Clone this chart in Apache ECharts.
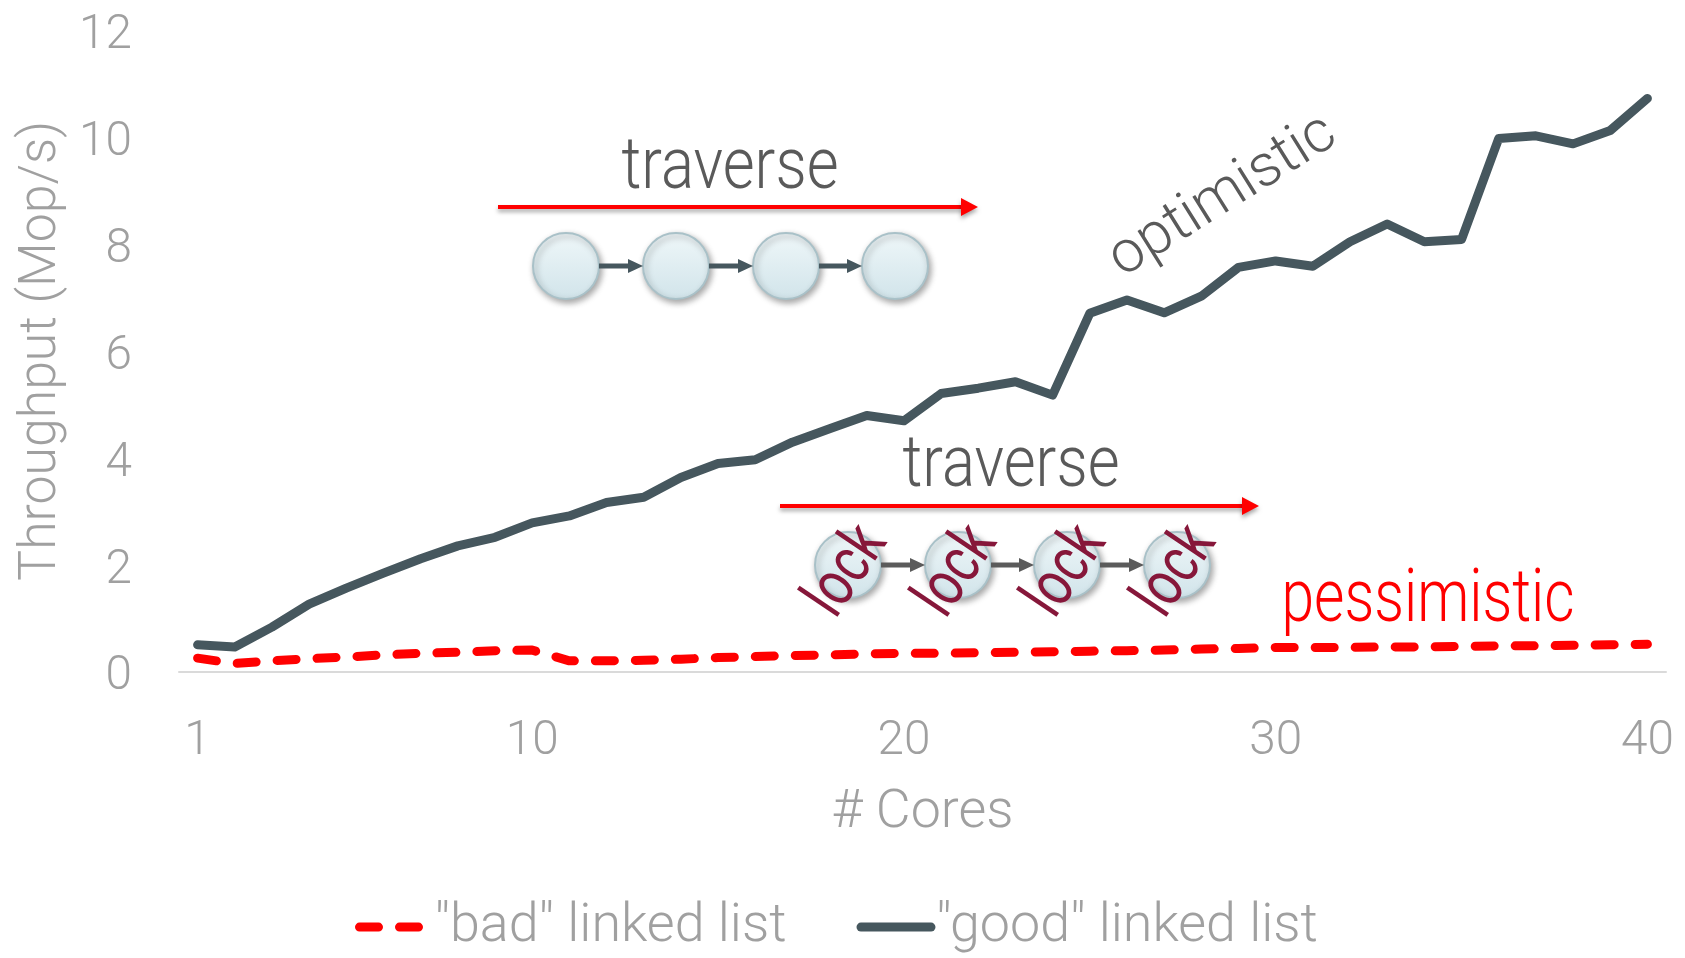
<!DOCTYPE html>
<html>
<head>
<meta charset="utf-8">
<style>
  html, body { margin: 0; padding: 0; background: #ffffff; }
  #chart { width: 1685px; height: 958px; }
</style>
<script src="https://cdn.jsdelivr.net/npm/echarts@6/dist/echarts.min.js"></script>
</head>
<body>
<div id="chart"></div>
<script>
// Number of cores on the x axis
const cores = ['1','2','3','4','5','6','7','8','9','10',
               '11','12','13','14','15','16','17','18','19','20',
               '21','22','23','24','25','26','27','28','29','30',
               '31','32','33','34','35','36','37','38','39','40'];
// Core counts that get a tick label
const xTickLabels = ['1', '10', '20', '30', '40'];
// Throughput axis range (Mop/s)
const yMin = 0, yMax = 12, yStep = 2;

const seriesNames = ['"bad" linked list', '"good" linked list'];

// Lock-based (pessimistic) list throughput, Mop/s
const badList = [0.25, 0.15, 0.20, 0.24, 0.27, 0.31, 0.34, 0.36, 0.39, 0.40,
                 0.20, 0.20, 0.21, 0.23, 0.26, 0.28, 0.30, 0.31, 0.33, 0.34,
                 0.34, 0.35, 0.36, 0.37, 0.38, 0.39, 0.40, 0.42, 0.43, 0.45,
                 0.45, 0.45, 0.46, 0.46, 0.47, 0.48, 0.48, 0.49, 0.50, 0.51];
// Optimistic list throughput, Mop/s
const goodList = [0.50, 0.46, 0.83, 1.26, 1.56, 1.84, 2.11, 2.35, 2.51, 2.78,
                  2.91, 3.16, 3.26, 3.63, 3.89, 3.96, 4.29, 4.54, 4.79, 4.69,
                  5.20, 5.30, 5.42, 5.17, 6.70, 6.95, 6.71, 7.02, 7.56, 7.68,
                  7.58, 8.04, 8.37, 8.04, 8.08, 9.97, 10.02, 9.87, 10.12, 10.72];

const FAMILY = 'Roboto, "Open Sans", "DejaVu Sans", sans-serif';
const RED = '#ff0000';
const SLATE = '#46575e';
const GREY_TEXT = '#a0a0a0';

// ---- Text sizing: pick a font size (or horizontal squeeze) that gives a target width ----
const measureCtx = document.createElement('canvas').getContext('2d');
function textWidth(text, weight, size) {
  measureCtx.font = weight + ' ' + size + 'px ' + FAMILY;
  return measureCtx.measureText(text).width;
}
function sizeForWidth(text, weight, targetWidth) {
  return 100 * targetWidth / textWidth(text, weight, 100);
}
function squeezeFor(text, weight, size, targetWidth) {
  return Math.min(1, targetWidth / textWidth(text, weight, size));
}

const yNameSize = sizeForWidth('Throughput (Mop/s)', 300, 460);
const xNameSize = sizeForWidth('# Cores', 300, 182);
const legendSize = sizeForWidth(seriesNames[0], 300, 352);
const tickSize = sizeForWidth('40', 300, 46) * 1.15;

// ---- Annotation drawing helpers (list diagrams) ----
function nodeCircle(cx, cy) {
  return {
    type: 'circle',
    shape: { cx: cx, cy: cy, r: 33 },
    style: {
      fill: new echarts.graphic.LinearGradient(0, 0, 0, 1, [
        { offset: 0, color: '#eff7f9' },
        { offset: 1, color: '#d1e4ea' }
      ]),
      stroke: '#a9c1c8',
      lineWidth: 2,
      shadowBlur: 6,
      shadowColor: 'rgba(0,0,0,0.35)',
      shadowOffsetX: 2,
      shadowOffsetY: 3
    },
    z: 10
  };
}

function arrow(x1, y, x2, color, width, headLen, headHalf, shadow) {
  const s = shadow ? { shadowBlur: 4, shadowColor: 'rgba(0,0,0,0.35)', shadowOffsetY: 3 } : {};
  return [
    {
      type: 'line',
      shape: { x1: x1, y1: y, x2: x2 - headLen + 2, y2: y },
      style: Object.assign({ stroke: color, lineWidth: width }, s),
      z: 11
    },
    {
      type: 'polygon',
      shape: { points: [[x2, y], [x2 - headLen, y - headHalf], [x2 - headLen, y + headHalf]] },
      style: Object.assign({ fill: color }, s),
      z: 11
    }
  ];
}

function label(text, x, y, weight, size, targetWidth, color, rotationDeg) {
  return {
    type: 'text',
    x: x,
    y: y,
    rotation: (rotationDeg || 0) * Math.PI / 180,
    scaleX: targetWidth ? squeezeFor(text, weight, size, targetWidth) : 1,
    style: {
      text: text,
      font: weight + ' ' + size + 'px ' + FAMILY,
      fill: color,
      align: 'center',
      verticalAlign: 'middle',
      textAlign: 'center',
      textVerticalAlign: 'middle'
    },
    z: 12
  };
}

const graphics = [];

// Upper diagram: plain traversal
const upperNodesX = [566, 676, 786, 895];
const upperNodeY = 266;
graphics.push(label('traverse', 730, 170, 300, 73, 217, '#5a5a5a'));
graphics.push(...arrow(498, 207, 978, RED, 4, 17, 9, true));
upperNodesX.forEach(function (cx, i) {
  if (i < upperNodesX.length - 1) {
    graphics.push(...arrow(cx + 33, upperNodeY, upperNodesX[i + 1] - 33, SLATE, 5, 15, 7, false));
  }
  graphics.push(nodeCircle(cx, upperNodeY));
});

// Lower diagram: hand-over-hand locking traversal
const lowerNodesX = [848, 958, 1067, 1177];
const lowerNodeY = 565;
graphics.push(label('traverse', 1011, 468, 300, 73, 217, '#5a5a5a'));
graphics.push(...arrow(780, 506, 1259, RED, 4, 17, 9, true));
lowerNodesX.forEach(function (cx, i) {
  if (i < lowerNodesX.length - 1) {
    graphics.push(...arrow(cx + 33, lowerNodeY, lowerNodesX[i + 1] - 33, '#5b5b5b', 5, 15, 7, false));
  }
  graphics.push(nodeCircle(cx, lowerNodeY));
});
lowerNodesX.forEach(function (cx) {
  graphics.push(label('lock', cx, lowerNodeY + 7, 400, 65, 94, '#86173a', 56));
});

// Curve labels
graphics.push(label('optimistic', 1223, 197, 300, 59, null, '#5a5a5a', 32));
graphics.push(label('pessimistic', 1428, 602, 300, 75, 293, RED));

const chart = echarts.init(document.getElementById('chart'), null, { renderer: 'canvas' });

chart.setOption({
  animation: false,
  backgroundColor: '#ffffff',
  grid: { left: 179, right: 19, top: 30, bottom: 286.5, containLabel: false, outerBoundsMode: 'none' },
  legend: {
    data: seriesNames,
    left: 350,
    top: 922 - legendSize / 2,
    itemWidth: 70,
    itemHeight: 14,
    itemGap: 70,
    lineStyle: { width: 'inherit' },
    itemStyle: { opacity: 0 },
    textStyle: { fontFamily: FAMILY, fontWeight: 300, fontSize: legendSize, lineHeight: legendSize, color: GREY_TEXT }
  },
  xAxis: {
    type: 'category',
    data: cores,
    boundaryGap: true,
    name: '# Cores',
    nameLocation: 'middle',
    nameGap: 813 - 671.5 - xNameSize / 2,
    nameTextStyle: { fontFamily: FAMILY, fontWeight: 300, fontSize: xNameSize, color: GREY_TEXT },
    axisLine: { show: true, lineStyle: { color: '#dadada', width: 2 } },
    axisTick: { show: false },
    axisLabel: {
      interval: function (index, value) { return xTickLabels.indexOf(value) !== -1; },
      margin: 70 - tickSize / 2,
      fontFamily: FAMILY,
      fontWeight: 300,
      fontSize: tickSize,
      color: GREY_TEXT
    },
    splitLine: { show: false }
  },
  yAxis: {
    type: 'value',
    min: yMin,
    max: yMax,
    interval: yStep,
    name: 'Throughput (Mop/s)',
    nameLocation: 'middle',
    nameGap: 179 - 45 - yNameSize / 2,
    nameTextStyle: { fontFamily: FAMILY, fontWeight: 300, fontSize: yNameSize, color: GREY_TEXT },
    axisLine: { show: false },
    axisTick: { show: false },
    axisLabel: {
      margin: 47,
      verticalAlign: 'top',
      lineHeight: 12,
      fontFamily: FAMILY,
      fontWeight: 300,
      fontSize: tickSize,
      color: GREY_TEXT
    },
    splitLine: { show: false }
  },
  series: [
    {
      name: seriesNames[0],
      type: 'line',
      data: badList,
      symbol: 'none',
      lineStyle: { color: RED, width: 9, type: [19, 21], cap: 'round', join: 'round' },
      itemStyle: { color: RED },
      z: 3
    },
    {
      name: seriesNames[1],
      type: 'line',
      data: goodList,
      symbol: 'none',
      lineStyle: { color: SLATE, width: 9, cap: 'round', join: 'round' },
      itemStyle: { color: SLATE },
      z: 4
    }
  ],
  graphic: graphics
});
</script>
</body>
</html>
